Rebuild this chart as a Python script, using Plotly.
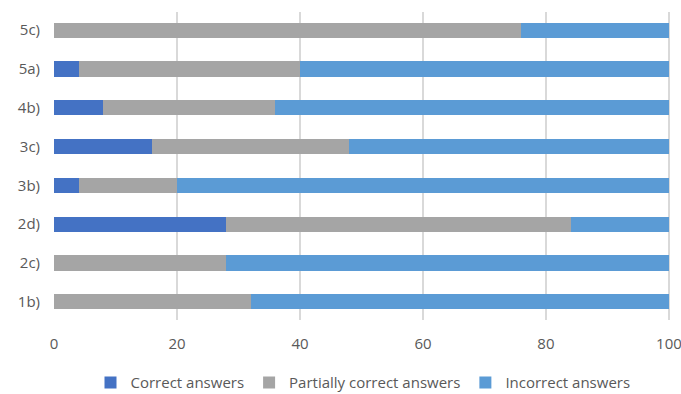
import plotly.graph_objects as go

categories = ["1b)", "2c)", "2d)", "3b)", "3c)", "4b)", "5a)", "5c)"]
correct = [0, 0, 28, 4, 16, 8, 4, 0]
partial = [32, 28, 56, 16, 32, 28, 36, 76]
incorrect = [68, 72, 16, 80, 52, 64, 60, 24]
x_ticks = [0, 20, 40, 60, 80, 100]

series = [
    ("Correct answers", correct, "#4472C4"),
    ("Partially correct answers", partial, "#A5A5A5"),
    ("Incorrect answers", incorrect, "#5B9BD5"),
]

fig = go.Figure()
for name, vals, color in series:
    fig.add_trace(go.Bar(
        y=categories, x=vals, name=name, orientation="h",
        marker=dict(color=color, line=dict(width=0)),
        width=0.39,
    ))

fig.update_layout(
    barmode="stack",
    width=681, height=394,
    margin=dict(l=54, r=9, t=12, b=74, autoexpand=False),
    plot_bgcolor="white", paper_bgcolor="white",
    font=dict(family="'Open Sans', sans-serif", size=15, color="#595959"),
    xaxis=dict(
        range=[0, 100.5], tickvals=x_ticks, automargin=False,
        ticklabeloverflow="allow",
        showgrid=True, gridcolor="#D9D9D9", gridwidth=1.5,
        zeroline=False, showline=False, ticks="outside", ticklen=10,
        tickcolor="rgba(0,0,0,0)",
        tickfont=dict(size=15, color="#595959"),
    ),
    yaxis=dict(
        range=[-0.47, 7.47], showgrid=False, zeroline=False, automargin=False,
        showline=False, ticks="outside", ticklen=10, tickcolor="rgba(0,0,0,0)",
        tickfont=dict(size=15, color="#595959"),
    ),
    legend=dict(
        orientation="h", x=0.5, xanchor="center", y=-0.15, yanchor="top",
        font=dict(size=15, color="#595959"), traceorder="normal",
        itemwidth=30,
    ),
    bargap=0.6,
)

fig.write_html("out.html")
